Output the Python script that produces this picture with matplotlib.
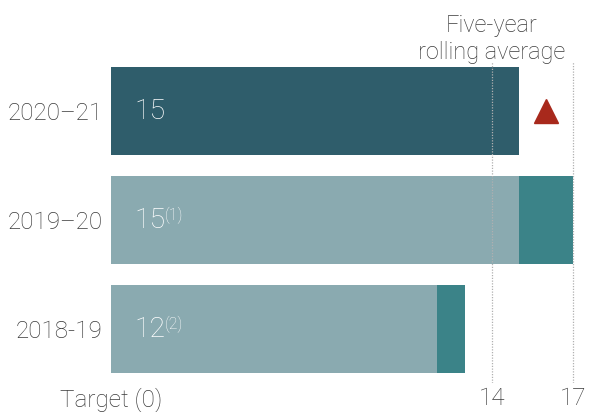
import matplotlib

matplotlib.use("Agg")
import matplotlib.pyplot as plt

# values
YEARS = ["2020\u201321", "2019\u201320", "2018-19"]
BASE = [15, 15, 12]          # main bar length
EXTRA = [0, 2, 1]            # darker teal extension
LABELS = ["15", "15", "12"]
NOTES = ["", "(1)", "(2)"]
AVG_MARK = 16                # red triangle, current year only
REF_LINES = [14, 17]
XTICKS = [0, 14, 17]
XTICK_LABELS = ["Target (0)", "14", "17"]

INK = "#3a3a3a"
LIGHT = "#8aaab0"
TEAL = "#3b8388"
DARK = "#2f5d6b"
RED = "#a8291c"
DOT = "#b0b0b0"

plt.rcParams.update({
    "font.family": ["Roboto", "DejaVu Sans"],
    "font.weight": "light",
    "text.color": INK,
    "xtick.color": INK,
    "ytick.color": INK,
})

fig = plt.figure(figsize=(5.89, 4.12), dpi=100)
ax = fig.add_axes([111 / 589, 1 - 383 / 412, 476 / 589, 321 / 412])

ypos = list(range(len(YEARS)))
colors = [DARK] + [LIGHT] * (len(YEARS) - 1)
ax.barh(ypos, BASE, height=0.81, color=colors, zorder=1)
ax.barh(ypos, EXTRA, left=BASE, height=0.81, color=TEAL, zorder=1)

for x in REF_LINES:
    ax.axvline(x, color=DOT, lw=0.9, ls=(0, (1, 1.2)), zorder=3)

ax.plot([AVG_MARK], [0], marker="^", ms=17, color=RED, mec=RED, zorder=4)

for y, lab, note in zip(ypos, LABELS, NOTES):
    t = ax.text(0.85, y, lab, color="white", fontsize=20.5, ha="left",
                va="center", fontweight="light", zorder=5)
    if note:
        ax.annotate(note, xy=(1.0, 0.98), xycoords=t, color="white",
                    fontsize=11.5, ha="left", va="top", fontweight="light",
                    zorder=5)

ax.text(14, -0.43, "Five-year\nrolling average", ha="center", va="bottom",
        fontsize=17, linespacing=1.22, fontweight="light")

ax.set_xlim(0, 17.5)
ax.set_ylim(2.495, -0.45)
ax.set_yticks(ypos)
ax.set_yticklabels(YEARS, fontsize=17.5, fontweight="light")
ax.set_xticks(XTICKS)
ax.set_xticklabels(XTICK_LABELS, fontsize=17.5, fontweight="light")
ax.tick_params(length=0, axis="y", pad=6)
ax.tick_params(length=0, axis="x", pad=3)
for s in ax.spines.values():
    s.set_visible(False)

fig.savefig("out.png", dpi=100)
